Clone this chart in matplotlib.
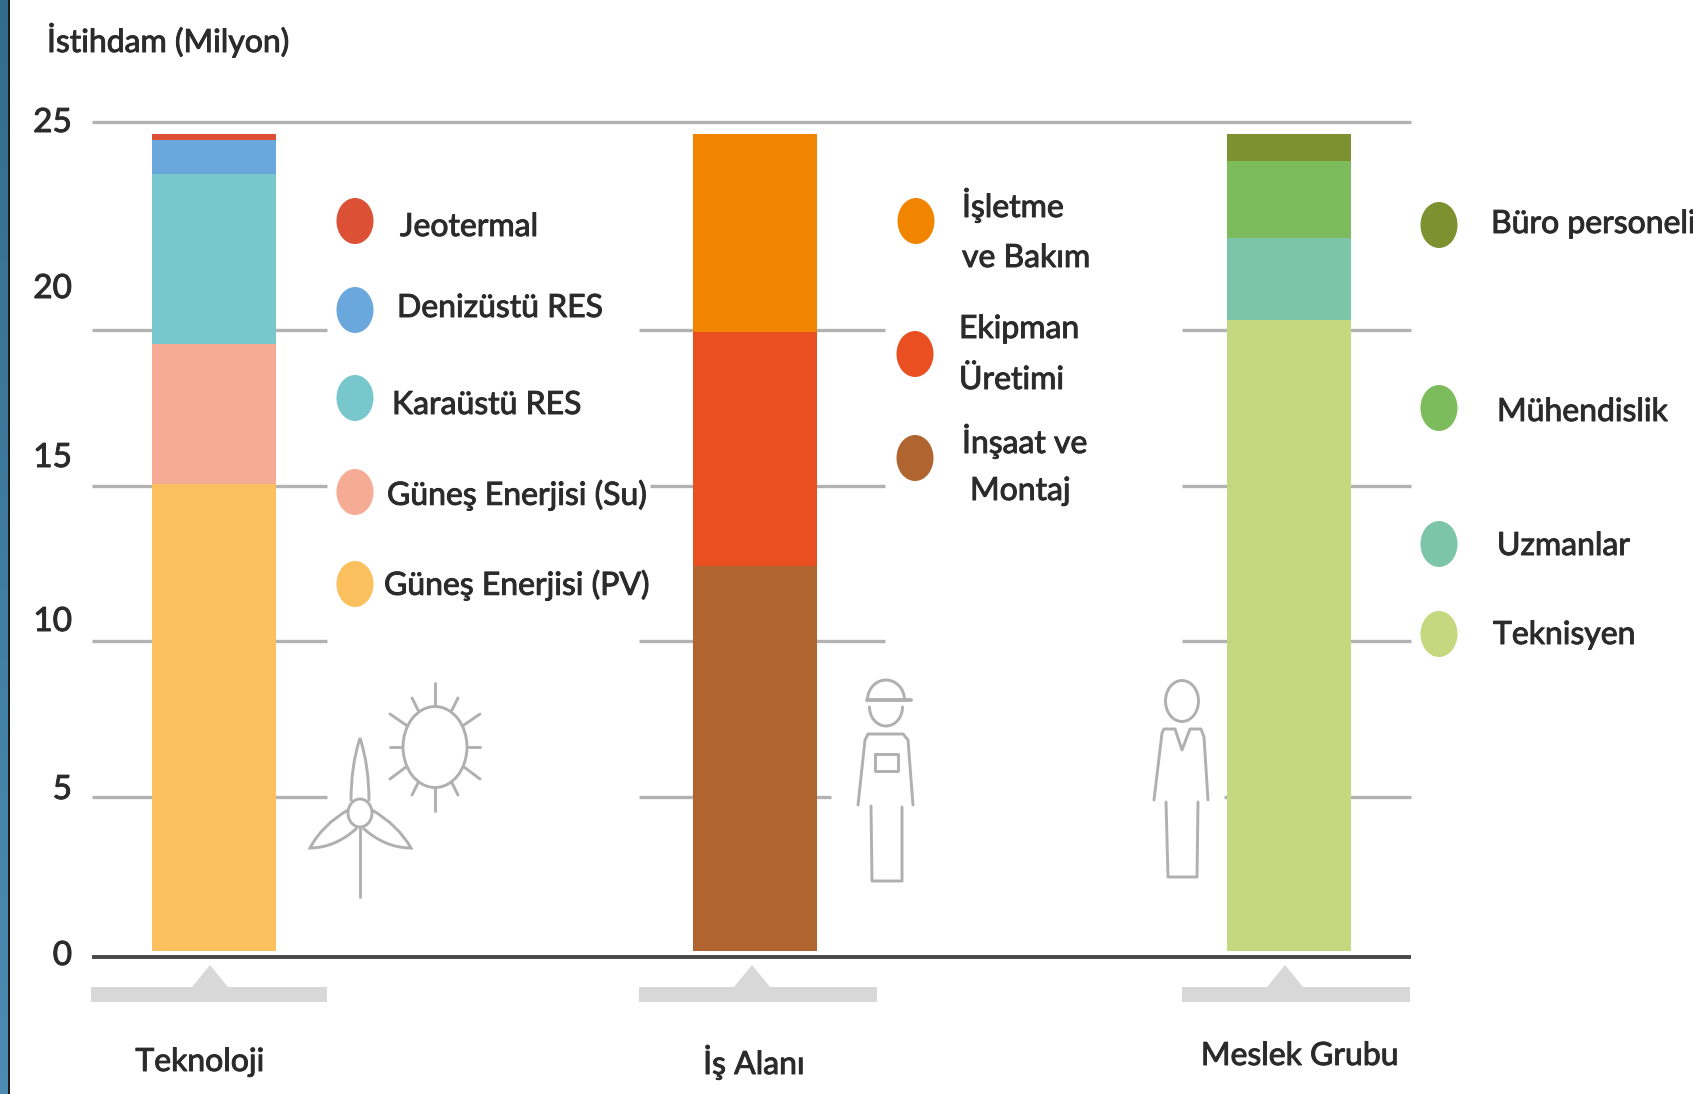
import numpy as np
import matplotlib
matplotlib.use('Agg')
import matplotlib.pyplot as plt
import matplotlib.patheffects as pe
from matplotlib.patches import Ellipse, PathPatch, Polygon, Rectangle
from matplotlib.path import Path

plt.rcParams['font.family'] = ['Lato', 'DejaVu Sans']

# values in million jobs, bottom to top
bar_base = 0.19
tech_names = ['Güneş Enerjisi (PV)', 'Güneş Enerjisi (Su)', 'Karaüstü RES', 'Denizüstü RES', 'Jeotermal']
tech_values = [14.86, 4.5, 4.2, 0.82, 0.13]
tech_colors = ['#fdc05e', '#f6ab95', '#78c7cd', '#6aa7dc', '#dc5035']

work_names = ['İnşaat ve\nMontaj', 'Ekipman\nÜretimi', 'İşletme\nve Bakım']
work_values = [12.23, 7.53, 4.76]
work_colors = ['#b0642f', '#ea4f22', '#f28500']

job_names = ['Teknisyen', 'Uzmanlar', 'Mühendislik', 'Büro personeli']
job_values = [20.05, 1.98, 1.84, 0.65]
job_colors = ['#c5d880', '#7cc4aa', '#7dbc5c', '#7e9130']

group_names = ['Teknoloji', 'İş Alanı', 'Meslek Grubu']
y_ticks = [0, 5, 10, 15, 20, 25]

W, H = 1693, 1094
TEXT = '#2b2b2b'
ICON = '#b0b0b0'
FONT = 23
HEAVY = [pe.withStroke(linewidth=0.7, foreground=TEXT)]

fig = plt.figure(figsize=(W / 100, H / 100), dpi=100, facecolor='white')

# the axis is not even: the 20-25 step is drawn taller than the others
scale_vals = [-5, 0, 5, 10, 15, 20, 25, 28]
scale_pos = [0, 137, 297, 453, 608, 764, 972, 1094]


def forward(v):
    return np.interp(v, scale_vals, scale_pos)


def inverse(p):
    return np.interp(p, scale_pos, scale_vals)


ax = fig.add_axes([0, 0, 1, 1])
ax.set_yscale('function', functions=(forward, inverse))
ax.set_xlim(0, W)
ax.set_ylim(-5, 28)
ax.axis('off')

# grid segments per tick, broken around the legends and icons
col_spans = {
    5: [(92, 327), (639, 831), (1224, 1411)],
    10: [(92, 327), (639, 885), (1182, 1411)],
    15: [(92, 327), (650, 885), (1182, 1411)],
    20: [(92, 327), (639, 885), (1182, 1411)],
    25: [(92, 1411)],
}
for tick, spans in col_spans.items():
    for x0, x1 in spans:
        ax.plot([x0, x1], [tick, tick], color='#b2b2b2', lw=2.4, solid_capstyle='butt', zorder=1)
ax.plot([92, 1411], [0, 0], color='#484848', lw=2.8, solid_capstyle='butt', zorder=1)

bar_x = [214, 754.5, 1288.5]
bar_w = 124
for x, values, colors in zip(bar_x, [tech_values, work_values, job_values],
                             [tech_colors, work_colors, job_colors]):
    bottom = bar_base
    for v, c in zip(values, colors):
        ax.bar(x, v, width=bar_w, bottom=bottom, color=c, linewidth=0, zorder=2)
        bottom += v

# second layer in pixel coordinates for text, legend and pictograms
ov = fig.add_axes([0, 0, 1, 1], facecolor='none')
ov.set_xlim(0, W)
ov.set_ylim(H, 0)
ov.axis('off')

# blue band on the left edge
grad = np.linspace(0, 1, 256).reshape(-1, 1)
band = np.zeros((256, 1, 3))
band[..., 0] = (0.20 + 0.10 * grad)
band[..., 1] = (0.42 + 0.13 * grad)
band[..., 2] = (0.55 + 0.15 * grad)
ov.imshow(band, extent=(0, 8, H, 0), aspect='auto', zorder=5)
ov.set_xlim(0, W)
ov.set_ylim(H, 0)
ov.add_patch(Rectangle((8, 0), 2, H, color='#1c1c1c', lw=0))


def label(x, y, s, ha='left', size=FONT):
    ov.text(x, y, s, fontsize=size, color=TEXT, va='center', ha=ha, path_effects=HEAVY)


label(47, 40, 'İstihdam (Milyon)')

tick_label_y = [956, 790, 622, 458, 289, 123]
for t, y in zip(y_ticks, tick_label_y):
    label(72, y, str(t), ha='right', size=24)

# brackets under the baseline
bracket_spans = [(91, 327, 210), (639, 877, 752), (1182, 1410, 1285)]
group_pos = [(200, 1062), (754, 1062), (1300, 1056)]
for (x0, x1, apex), name, (tx, ty) in zip(bracket_spans, group_names, group_pos):
    ov.add_patch(Rectangle((x0, 987), x1 - x0, 15, color='#d8d8d8', lw=0))
    ov.add_patch(Polygon([(apex - 18, 987), (apex, 965), (apex + 18, 987)], color='#d8d8d8', lw=0))
    label(tx, ty, name, ha='center')


def dot(x, y, color):
    ov.add_patch(Ellipse((x, y), 37, 46, color=color, lw=0))


# technology legend, top entry first
tech_dot_y = [584, 492, 398, 310, 221]
tech_text = [(384, 585), (387, 495), (392, 405), (397, 308), (400, 227)]
for name, color, y, (tx, ty) in zip(tech_names, tech_colors, tech_dot_y, tech_text):
    dot(355, y, color)
    label(tx, ty, name)

# work area legend, each name on two lines
work_dot_y = [458, 354, 221]
work_dot_x = [915, 915, 916]
work_text = [((962, 441), (970, 491)), ((959, 329), (959, 380)), ((962, 205), (962, 258))]
for name, color, x, y, lines in zip(work_names, work_colors, work_dot_x, work_dot_y, work_text):
    dot(x, y, color)
    for part, (tx, ty) in zip(name.split('\n'), lines):
        label(tx, ty, part)

job_dot_y = [634, 544, 408, 225]
job_text = [(1493, 635), (1497, 546), (1497, 412), (1491, 224)]
for name, color, y, (tx, ty) in zip(job_names, job_colors, job_dot_y, job_text):
    dot(1439, y, color)
    label(tx, ty, name)


def line(pts, lw=2.1):
    xs, ys = zip(*pts)
    ov.plot(xs, ys, color=ICON, lw=lw, solid_capstyle='round', solid_joinstyle='round')


def blade(base_a, ctrl_a, tip, ctrl_b, base_b):
    verts = [base_a, ctrl_a, tip, ctrl_b, base_b]
    codes = [Path.MOVETO, Path.CURVE3, Path.CURVE3, Path.CURVE3, Path.CURVE3]
    ov.add_patch(PathPatch(Path(verts, codes), fill=False, edgecolor=ICON, lw=2.1))


# wind turbine
ov.add_patch(Ellipse((360, 813), 24, 28, fill=False, edgecolor=ICON, lw=2.1))
line([(360, 828), (360, 897)])
blade((351, 801), (351, 765), (360, 738), (369, 765), (369, 801))
blade((348, 810), (322, 825), (310, 848), (335, 848), (357, 828))
blade((372, 810), (398, 825), (411, 848), (385, 848), (363, 828))

# sun
ov.add_patch(Ellipse((435, 747), 64, 81, fill=False, edgecolor=ICON, lw=2.1))
rays = [
    ((435, 683), (435, 705)), ((435, 788), (435, 811)),
    ((390, 747), (402, 747)), ((468, 747), (480, 747)),
    ((390, 714), (406, 725)), ((480, 714), (464, 725)),
    ((390, 779), (406, 767)), ((480, 779), (464, 767)),
    ((412, 698), (418, 710)), ((458, 698), (452, 710)),
    ((412, 795), (418, 783)), ((458, 795), (452, 783)),
]
for r in rays:
    line(r)

# worker with helmet
th = np.linspace(np.pi, 2 * np.pi, 30)
line(list(zip(886 + 18.5 * np.cos(th), 700 + 20 * np.sin(th))))
line([(867, 700), (911, 700)], lw=2.8)
th = np.linspace(0, np.pi, 30)
line(list(zip(886 + 16.5 * np.cos(th), 707 + 19 * np.sin(th))))
line([(858, 805), (865, 740), (868, 734), (903, 734), (908, 740), (913, 805)])
line([(875, 754), (898, 754), (898, 771), (875, 771), (875, 754)])
line([(871, 806), (872, 881), (902, 881), (902, 807)])

# person in a suit
ov.add_patch(Ellipse((1182, 701), 33, 41, fill=False, edgecolor=ICON, lw=2.1))
line([(1154, 800), (1162, 733), (1164, 729), (1175, 729), (1182, 750),
      (1190, 729), (1201, 729), (1204, 737), (1208, 800)])
line([(1166, 802), (1168, 877), (1197, 877), (1198, 802)])

fig.savefig('out.png', dpi=100, facecolor='white')
